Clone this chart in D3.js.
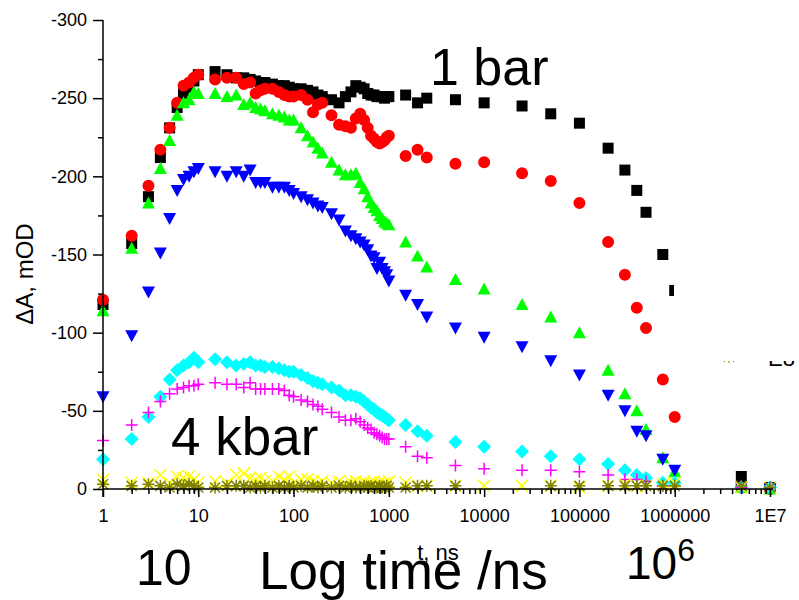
<!DOCTYPE html>
<html>
<head>
<meta charset="utf-8">
<script src="https://cdn.jsdelivr.net/npm/d3@7/dist/d3.min.js"></script>
<style>
	body { margin: 0; background: #fff; }
	svg { display: block; font-family: "Liberation Sans", Arial, sans-serif; }
	.axis path, .axis line { stroke: #000; stroke-width: 1.5; }
	.axis text { font-size: 18px; fill: #000; }
</style>
</head>
<body>
<svg width="799" height="600"></svg>
<script>
// time points, ns
var times = [1, 2, 3, 4, 5, 6, 7, 8, 9, 10,
	15, 20, 25, 30, 35, 40, 45, 50, 60, 70, 80, 90, 100,
	120, 140, 160, 180, 200,
	250, 300, 350, 400, 450, 500, 550, 600, 650, 700, 750, 800, 850, 900, 950, 1000,
	1500, 2000, 2500, 5000, 10000, 25000, 50000, 100000, 200000, 300000, 400000, 500000, 750000, 1000000, 5000000, 10000000];

// delta A, mOD, one array per pressure
var blackSq = [-118, -157, -187, -212, -231, -244, -253, -257, -261, -265,
	-267, -265, -263, -263, -262, -261, -260, -260, -259, -258, -258, -257, -256,
	-256, -255, -254, -252, -251,
	-249, -247, -251, -254, -258, -257, -256, -253, -252, -252, -251, -251, -251, -250, -251, -251,
	-252, -247, -250, -249, -247, -245, -240, -234, -218, -204, -191, -177, -150, -127, -8, -1];
var redCirc = [-121, -162, -194, -217, -231, -247, -258, -260, -263, -265,
	-262, -263, -263, -259, -260, -253, -255, -256, -256, -254, -252, -251, -251,
	-252, -249, -241, -246, -247,
	-239, -233, -232, -231, -237, -240, -236, -231, -226, -224, -222, -221, -222, -223, -225, -226,
	-213, -217, -212, -208, -209, -202, -197, -183, -158, -137, -116, -103, -70, -46, -1, 0];
var greenUp = [-114, -154, -183, -205, -223, -239, -247, -249, -254, -253,
	-253, -251, -252, -246, -247, -244, -243, -242, -240, -239, -238, -236, -236,
	-231, -226, -222, -218, -215,
	-209, -204, -201, -201, -202, -196, -192, -187, -183, -180, -178, -175, -173, -171, -170, -169,
	-158, -149, -142, -134, -128, -118, -110, -100, -76, -61, -50, -38, -20, -11, -1, 0];
var blueDown = [-59, -98, -126, -151, -173, -191, -198, -200, -203, -205,
	-203, -200, -203, -200, -204, -196, -196, -196, -193, -193, -193, -191, -189,
	-187, -185, -183, -181, -180,
	-176, -172, -165, -162, -160, -158, -156, -153, -149, -148, -141, -145, -141, -139, -137, -133,
	-124, -118, -110, -103, -97, -91, -82, -73, -60, -50, -37, -34, -19, -12, -1, 0];
var cyanDia = [-19, -32, -46, -59, -70, -76, -79, -81, -84, -81,
	-83, -81, -79, -80, -81, -79, -79, -78, -78, -77, -76, -75, -75,
	-73, -71, -69, -68, -67,
	-65, -63, -60, -60, -59, -58, -56, -54, -52, -51, -49, -48, -47, -46, -45, -44,
	-41, -37, -34, -30, -27, -24, -21, -19, -16, -12, -9, -7, -4, -4, -1, -1];
var magentaPlus = [-31, -41, -49, -56, -61, -64, -65, -66, -66, -67,
	-68, -67, -67, -65, -68, -64, -64, -64, -64, -64, -63, -60, -59,
	-57, -56, -54, -53, -51,
	-49, -46, -44, -44, -45, -43, -41, -39, -38, -36, -35, -34, -33, -32, -32, -32,
	-27, -21, -20, -15, -13, -12, -12, -11, -9, -6, -6, -5, -2, -2, -1, -1];
var yellowX = [-6, -4, -4, -9, -4, -8, -7, -8, -6, -4,
	-5, -4, -9, -10, -7, -6, -7, -5, -5, -8, -6, -8, -4,
	-6, -6, -5, -3, -5,
	-4, -5, -3, -4, -5, -3, -4, -3, -4, -5, -3, -4, -3, -4, -3, -5,
	-4, -2, -2, -2, -2, -2, -2, -1, -2, -3, -2, -2, -3, -4, -1, -1];
var oliveStar = [-3, -2, -3, -2, -1, -3, -2, -3, -2, -1,
	-1, -2, -2, -2, -1, -2, -1, -2, -1, -2, -1, -2, -1,
	-2, -1, -2, -1, -2,
	-1, -2, -1, -2, -1, -1, -2, -1, -2, -1, -1, -2, -1, -1, -2, -1,
	-1, -2, -2, -2, null, null, -2, -2, -2, -2, -2, -2, -2, -2, -2, -1];

var xTicks = [1, 10, 100, 1000, 10000, 100000, 1000000, 10000000];
var xTickLabels = ["1", "10", "100", "1000", "10000", "100000", "1000000", "1E7"];
var yTicks = [0, -50, -100, -150, -200, -250, -300];

var svg = d3.select("svg");

var x = d3.scaleLog().domain([1, 1e7]).range([103, 770]);
var y = d3.scaleLinear().domain([0, -300]).range([489, 20]);

// marker outlines, centred on 0,0
var shapes = {
	square: "M-5.5,-5.5H5.5V5.5H-5.5Z",
	circle: d3.symbol(d3.symbolCircle, 113)(),
	up: "M0,-6.5L6.5,5.5L-6.5,5.5Z",
	down: "M0,6.5L6.5,-5.5L-6.5,-5.5Z",
	diamond: "M0,-7L7,0L0,7L-7,0Z",
	plus: "M-6,0H6M0,-6V6",
	cross: "M-6,-6L6,6M-6,6L6,-6",
	star: "M-5,-5L5,5M-5,5L5,-5M-6,0H6M0,-6V6"
};

var series = [
	{values: blackSq, shape: "square", color: "#000000", filled: true},
	{values: redCirc, shape: "circle", color: "#ff0000", filled: true},
	{values: greenUp, shape: "up", color: "#00ff00", filled: true},
	{values: blueDown, shape: "down", color: "#0000ff", filled: true},
	{values: cyanDia, shape: "diamond", color: "#00ffff", filled: true},
	{values: magentaPlus, shape: "plus", color: "#ff00ff", filled: false},
	{values: yellowX, shape: "cross", color: "#ffff00", filled: false},
	{values: oliveStar, shape: "star", color: "#808000", filled: false}
];

// points
series.forEach(function(s) {
	var pts = times.map(function(t, i) { return {t: t, v: s.values[i]}; })
		.filter(function(d) { return d.v != null; });
	svg.append("g")
		.selectAll("path")
		.data(pts)
		.enter().append("path")
		.attr("d", shapes[s.shape])
		.attr("transform", function(d) { return "translate(" + x(d.t) + "," + y(d.v) + ")"; })
		.attr("fill", s.filled ? s.color : "none")
		.attr("stroke", s.filled ? "none" : s.color)
		.attr("stroke-width", 1.5);
});

// legend mostly hidden behind a white box
svg.append("path")
	.attr("d", shapes.star)
	.attr("transform", "translate(729,357)")
	.attr("fill", "none")
	.attr("stroke", "#808000")
	.attr("stroke-width", 1);
svg.append("text")
	.attr("x", 768).attr("y", 366)
	.attr("font-size", 22)
	.text("E8");
svg.append("rect")
	.attr("x", 674).attr("y", 0)
	.attr("width", 125).attr("height", 361)
	.attr("fill", "#fff");

// axes
var minorX = [];
xTicks.slice(0, -1).forEach(function(d) {
	for (var k = 2; k <= 9; k++) minorX.push(d * k);
});
var minorY = [-25, -75, -125, -175, -225, -275];

svg.append("g")
	.attr("class", "axis")
	.attr("transform", "translate(0," + y(0) + ")")
	.call(d3.axisBottom(x).tickValues(minorX).tickSize(5).tickFormat(""))
	.select(".domain").remove();

var xAxis = svg.append("g")
	.attr("class", "axis")
	.attr("transform", "translate(0," + y(0) + ")")
	.call(d3.axisBottom(x).tickValues(xTicks).tickSize(8).tickSizeOuter(0).tickPadding(12)
		.tickFormat(function(d, i) { return xTickLabels[i]; }));
xAxis.select(".domain").attr("d", "M103,0H773");

svg.append("g")
	.attr("class", "axis")
	.attr("transform", "translate(" + x(1) + ",0)")
	.call(d3.axisLeft(y).tickValues(minorY).tickSize(5).tickFormat(""))
	.select(".domain").remove();

var yAxis = svg.append("g")
	.attr("class", "axis")
	.attr("transform", "translate(" + x(1) + ",0)")
	.call(d3.axisLeft(y).tickValues(yTicks).tickSize(10).tickSizeOuter(0).tickPadding(6)
		.tickFormat(function(d) { return String(d); }));
yAxis.select(".domain").attr("d", "M0,20V497");

svg.selectAll(".axis text").attr("font-family", "Liberation Sans, Arial, sans-serif");

// axis titles
svg.append("text")
	.attr("transform", "translate(33,274) rotate(-90)")
	.attr("text-anchor", "middle")
	.attr("font-size", 24)
	.text("ΔA, mOD");
svg.append("text")
	.attr("x", 438).attr("y", 560)
	.attr("text-anchor", "middle")
	.attr("font-size", 22)
	.text("t, ns");

// annotations
svg.append("text").attr("x", 430).attr("y", 85).attr("font-size", 52).text("1 bar");
svg.append("text").attr("x", 171).attr("y", 455).attr("font-size", 53).text("4 kbar");
svg.append("text").attr("x", 136).attr("y", 585).attr("font-size", 50).text("10");
svg.append("text").attr("x", 259).attr("y", 589).attr("font-size", 53).text("Log time /ns");
var pow = svg.append("text").attr("x", 626).attr("y", 579).attr("font-size", 46);
pow.append("tspan").text("10");
pow.append("tspan").attr("font-size", 32).attr("dy", -18).text("6");
</script>
</body>
</html>
